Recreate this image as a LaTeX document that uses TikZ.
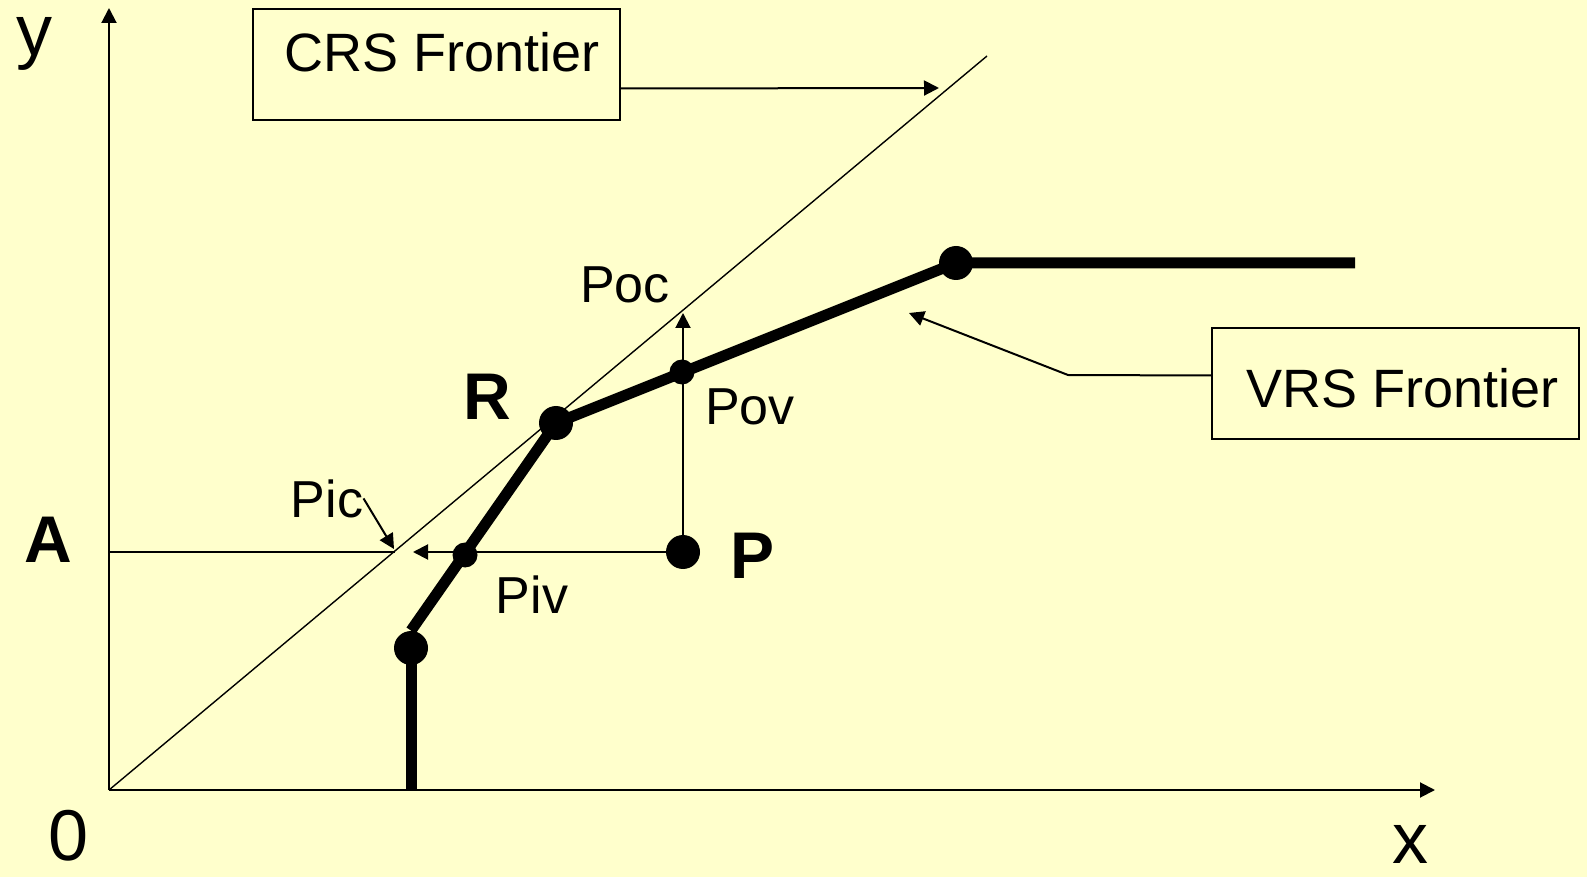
\documentclass[tikz,border=0pt]{standalone}
\usepackage{fontspec}
\setmainfont{Liberation Sans}
\usetikzlibrary{arrows.meta, positioning, calc}
\definecolor{slideyellow}{HTML}{FFFFCC}

\begin{document}
\begin{tikzpicture}[x=0.5pt, y=-0.5pt,
    frontier/.style={line width=5.5pt},
    arr/.style={line width=1pt, -{Triangle[length=7.5pt, width=7.5pt]}},
    bigdot/.style={circle, fill=black, inner sep=0pt, minimum size=17pt},
    smalldot/.style={circle, fill=black, inner sep=0pt, minimum size=12.5pt},
    lbl/.style={font=\fontsize{26}{31}\selectfont, inner sep=0pt, anchor=base},
    boldlbl/.style={font=\fontsize{33}{40}\selectfont\bfseries, inner sep=0pt, anchor=base},
    axislbl/.style={font=\fontsize{36}{43}\selectfont, inner sep=0pt, anchor=base},
    framebox/.style={draw, line width=1pt, fill=slideyellow, inner xsep=10pt, inner ysep=0pt,
      text width=163.5pt, align=flush right,
      font=\fontsize{27}{32}\selectfont, minimum width=183.5pt, minimum height=55.5pt}]
      \fill[slideyellow] (0,0) rectangle (1587,877);
      \useasboundingbox (0,0) rectangle (1587,877);
      % axes
      \coordinate (O) at (109,790);
      \coordinate (ytop) at (109,8);
      \coordinate (xend) at (1435,790);
      \draw[arr] (O) -- (ytop);
      \draw[arr] (O) -- (xend);
      \node[axislbl] (ylbl) at (35,56) {y};
      \node[axislbl] (xlbl) at (1410,863) {x};
      \node[axislbl] (olbl) at (69,860) {0};
      % CRS frontier
      \coordinate (crsend) at (987,56);
      \draw[line width=0.7pt] (O) -- (crsend);
      \coordinate (Aleft) at (109,552);
      \coordinate (Pic) at (395,552);
      \draw[line width=1pt] (Aleft) -- (Pic);
      \node[boldlbl] (Albl) at (48,562) {A};
      % VRS frontier
      \coordinate (base) at (411,790);
      \coordinate (vend) at (1355,263);
      \node[bigdot] (V1) at (411,648) {};
      \node[bigdot] (R) at (556,423) {};
      \node[bigdot] (V3) at (956,263) {};
      \draw[frontier] (base) -- (V1.center);
      \draw[frontier] (V1.north) -- (R.center) -- (V3.center) -- (vend);
      \node[smalldot] (Pov) at (682,372) {};
      \node[smalldot] (Piv) at (465,555) {};
      \node[bigdot] (P) at (683,552) {};
      % projections
      \coordinate (Poc) at (683,313);
      \coordinate (pivtip) at (413,552);
      \draw[arr] (P) -- (Poc);
      \draw[arr] (P) -- (pivtip);
      \node[lbl] (poclbl) at (625,303) {Poc};
      \node[lbl] (povlbl) at (750,425) {Pov};
      \node[lbl] (pivlbl) at (532,613) {Piv};
      \node[lbl] (piclbl) at (327,517) {Pic};
      \coordinate (pictip) at (394,549);
      \draw[arr] (piclbl.east) -- (pictip);
      \node[boldlbl] (Rlbl) at (487,420) {R};
      \node[boldlbl] (Plbl) at (753,579) {P};
      % callouts
      \node[framebox, anchor=north west, text height=20pt, text depth=12.6pt] (crs) at (252,8) {CRS Frontier};
      \coordinate (crstip) at (939,88);
      \draw[arr] ([yshift=-12pt]crs.east) -- (crstip);
      \node[framebox, anchor=north west, text height=24pt, text depth=0pt] (vrs) at (1211,327) {VRS Frontier};
      \coordinate (vrsbend) at (1068,375);
      \coordinate (vrstip) at (909,313);
      \draw[arr] ([yshift=4pt]vrs.west) -- (vrsbend) -- (vrstip);
    \end{tikzpicture}
\end{document}
